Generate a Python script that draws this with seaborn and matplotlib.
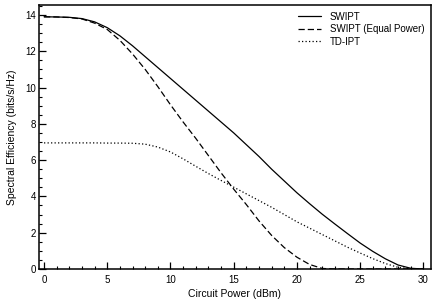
import pandas as pd
import matplotlib
matplotlib.use('Agg')
import matplotlib.pyplot as plt
import seaborn as sns
import numpy as np
from matplotlib.ticker import MultipleLocator

power = list(range(0, 31))
swipt = [13.9, 13.89, 13.87, 13.8, 13.62, 13.3, 12.85, 12.3, 11.7, 11.1,
         10.5, 9.9, 9.3, 8.7, 8.1, 7.5, 6.85, 6.2, 5.5, 4.85,
         4.2, 3.6, 3.02, 2.48, 1.95, 1.43, 0.97, 0.56, 0.22, 0.04, 0.0]
swipt_eq = [13.9, 13.89, 13.86, 13.78, 13.55, 13.2, 12.6, 11.85, 11.0, 10.05,
            9.05, 8.1, 7.2, 6.25, 5.3, 4.4, 3.55, 2.65, 1.85, 1.18,
            0.65, 0.25, 0.03, 0.0, 0.0, 0.0, 0.0, 0.0, 0.0, 0.0, 0.0]
td_ipt = [6.95, 6.95, 6.95, 6.95, 6.95, 6.94, 6.94, 6.93, 6.88, 6.72,
          6.45, 6.07, 5.66, 5.26, 4.88, 4.51, 4.14, 3.77, 3.4, 3.0,
          2.6, 2.25, 1.9, 1.55, 1.2, 0.88, 0.57, 0.3, 0.09, 0.01, 0.0]
labels = ['SWIPT', 'SWIPT (Equal Power)', 'TD-IPT']

df = pd.concat([
    pd.DataFrame({'power': power, 'se': s, 'scheme': name})
    for s, name in zip([swipt, swipt_eq, td_ipt], labels)
])

sns.set_style("ticks")
plt.rcParams['font.family'] = ['Liberation Sans', 'DejaVu Sans']
plt.rcParams['xtick.direction'] = 'in'
plt.rcParams['ytick.direction'] = 'in'
for k in ['text.color', 'axes.labelcolor', 'xtick.color', 'ytick.color',
          'axes.edgecolor']:
    plt.rcParams[k] = 'black'

fig = plt.figure(figsize=(4.36, 3.08), dpi=100)
ax = fig.add_axes([0.0894, 0.1266, 0.8991, 0.8572])

sns.lineplot(data=df, x='power', y='se', style='scheme', style_order=labels,
             dashes={'SWIPT': '', 'SWIPT (Equal Power)': (5.0, 2.4),
                     'TD-IPT': (1.0, 1.8)},
             color='black', linewidth=0.9, ax=ax, legend=False)

ax.set_xlim(-0.4, 30.6)
ax.set_ylim(0, 14.55)
ax.xaxis.set_major_locator(MultipleLocator(5))
ax.xaxis.set_minor_locator(MultipleLocator(1))
ax.yaxis.set_major_locator(MultipleLocator(2))
ax.yaxis.set_minor_locator(MultipleLocator(0.5))
ax.tick_params(which='major', length=5, width=0.9, labelsize=7)
ax.tick_params(which='minor', length=2.5, width=0.8)
ax.tick_params(axis='x', pad=4)
ax.tick_params(axis='y', pad=2)
for sp in ax.spines.values():
    sp.set_linewidth(1.1)

ax.set_xlabel('Circuit Power (dBm)', fontsize=7.5, labelpad=3)
ax.set_ylabel('Spectral Efficiency (bits/s/Hz)', fontsize=7.5, labelpad=6)

ax.legend(ax.get_lines()[:3], labels, loc='upper right', frameon=False,
          fontsize=7, handlelength=2.3, handletextpad=0.9, labelspacing=0.25,
          borderaxespad=0.4, borderpad=0.3)

fig.savefig('out.png', dpi=100)
